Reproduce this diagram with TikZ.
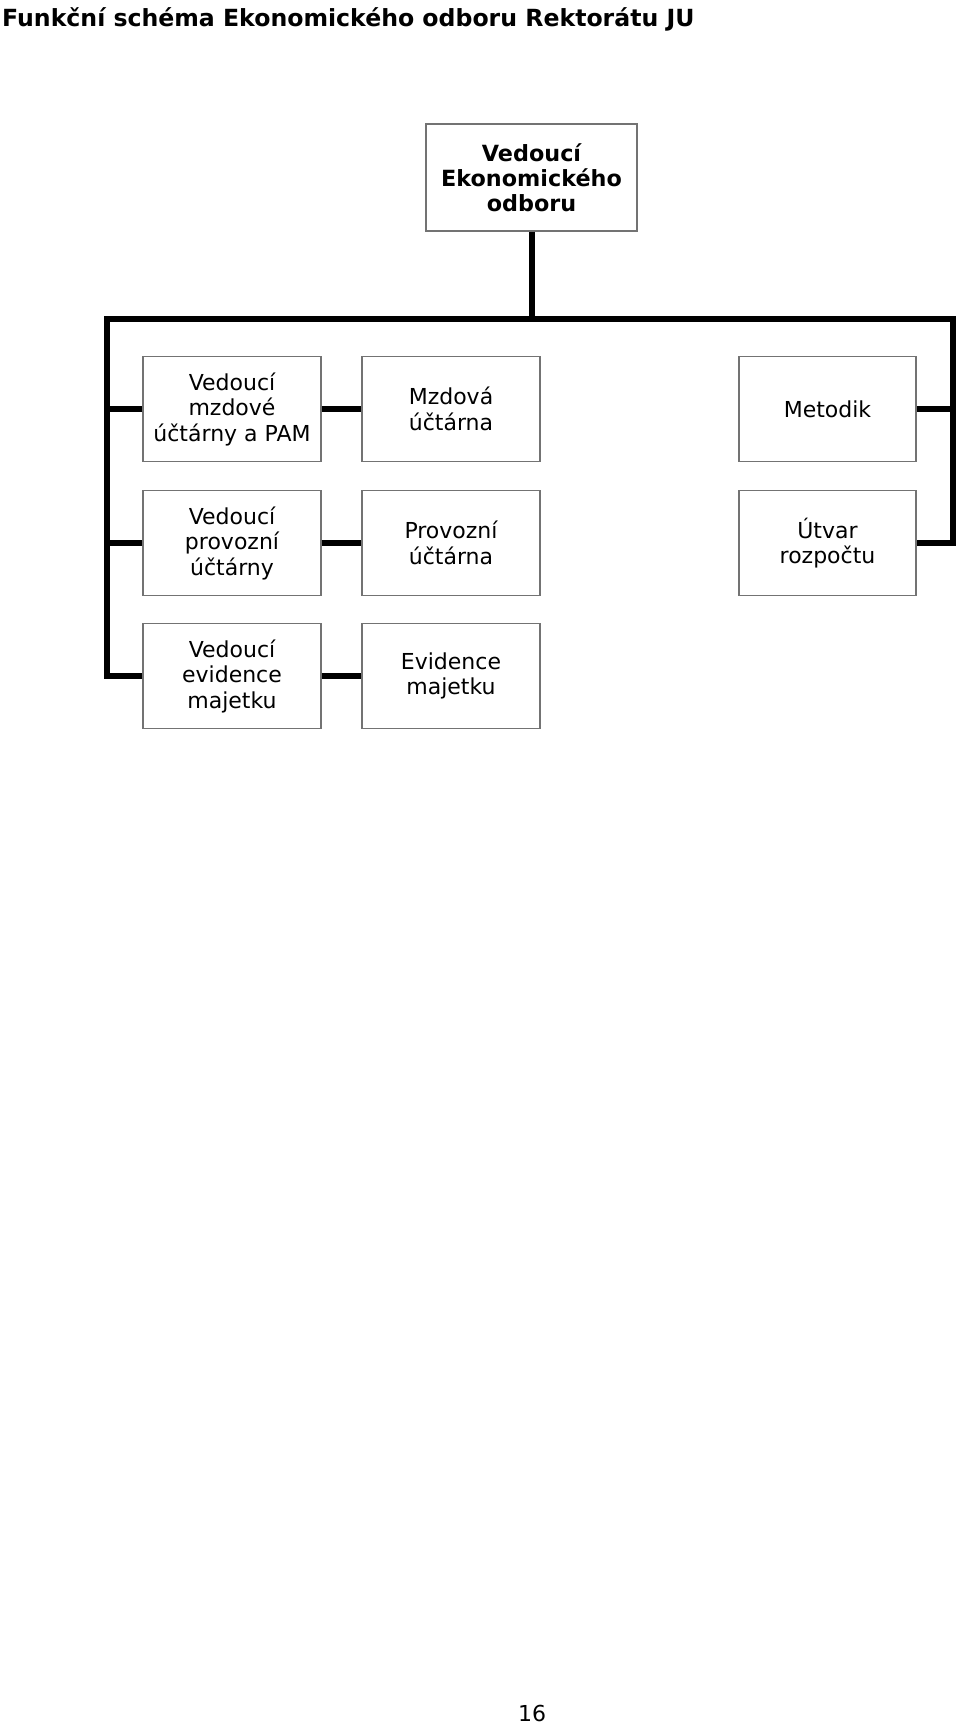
\documentclass[tikz,border=0pt]{standalone}
\usepackage{fontspec}
\setmainfont{DejaVu Sans}
\begin{document}
\begin{tikzpicture}[x=1pt, y=-1pt,
    box/.style={draw=black!55, line width=1.2pt, minimum width=178pt, minimum height=105pt,
        align=center, inner sep=2pt, font=\fontsize{22}{25.5}\selectfont},
    bus/.style={line width=6pt}]
    \useasboundingbox (0,0) rectangle (960,1726);
    \node[anchor=base west, inner sep=0pt, font=\bfseries\fontsize{23.6}{28}\selectfont] (title) at (2,27)
        {Funkční schéma Ekonomického odboru Rektorátu JU};
    \node[box, minimum width=211pt, minimum height=107pt, font=\bfseries\fontsize{22.3}{25}\selectfont] (chief) at (531.5,177.5)
        {Vedoucí\\Ekonomického\\odboru};
    \node[box] (headwage) at (232,409) {Vedoucí\\mzdové\\účtárny a PAM};
    \node[box] (wage) at (451,409) {Mzdová\\účtárna};
    \node[box, minimum width=177pt] (method) at (827.5,409) {Metodik};
    \node[box] (headop) at (232,543) {Vedoucí\\provozní\\účtárny};
    \node[box] (op) at (451,543) {Provozní\\účtárna};
    \node[box, minimum width=177pt] (budget) at (827.5,543) {Útvar\\rozpočtu};
    \node[box] (headasset) at (232,676) {Vedoucí\\evidence\\majetku};
    \node[box] (asset) at (451,676) {Evidence\\majetku};
    \node[font=\fontsize{22}{26}\selectfont] (page) at (532,1713) {16};
    \coordinate (busL) at (107,319);
    \coordinate (busR) at (953,319);
    \draw[bus] (chief.south) -- (chief.south |- busL);
    \draw[bus] (headasset.west) -| (busL) -- (busR) |- (budget.east);
    \draw[bus] (headwage.west) -- (headwage.west -| busL);
    \draw[bus] (headop.west) -- (headop.west -| busL);
    \draw[bus] (method.east) -- (method.east -| busR);
    \draw[bus] (headwage) -- (wage);
    \draw[bus] (headop) -- (op);
    \draw[bus] (headasset) -- (asset);
\end{tikzpicture}
\end{document}
